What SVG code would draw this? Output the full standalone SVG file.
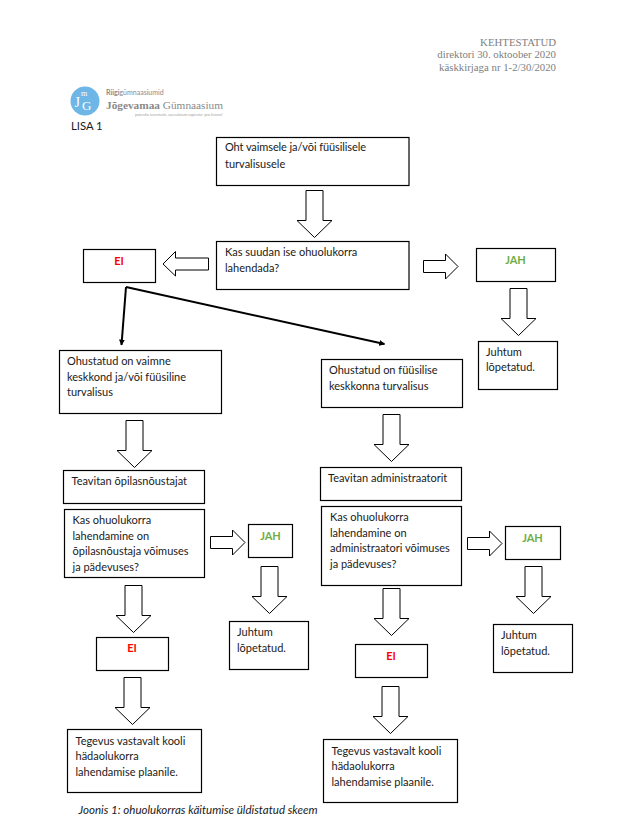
<svg xmlns="http://www.w3.org/2000/svg" width="624" height="825" viewBox="0 0 624 825">
<style>
text{font-family:"Lato","Noto Sans",sans-serif;font-size:11px;fill:#1a1a1a}
.b{fill:#fff;stroke:#000;stroke-width:1.2}
.a{fill:#fff;stroke:#000;stroke-width:1}
.no{font-weight:700;fill:#ff0000;text-anchor:middle}
.yes{font-weight:700;fill:#70ad47;text-anchor:middle}
.h{font-family:"Liberation Serif",serif;font-size:10.800px;fill:#808080;text-anchor:end}
.s{font-family:"Liberation Serif",serif;fill:#fff}
.l{fill:none;stroke:#000;stroke-width:2}
</style>
<defs>
<marker id="m" viewBox="0 0 10 10" refX="9" refY="5" markerWidth="3" markerHeight="3" orient="auto"><path d="M0 0L10 5L0 10z" fill="#000"/></marker>
<path id="d" d="M-8.500 0H8.500V30H17.500L0 47L-17.500 30H-8.500z" class="a"/>
</defs>
<rect width="624" height="825" fill="#fff"/>
<g id="header">
<text class="h" x="556" y="46">KEHTESTATUD</text>
<text class="h" x="556" y="58">direktori 30. oktoober 2020</text>
<text class="h" x="556" y="71">käskkirjaga nr 1-2/30/2020</text>
</g>
<g id="logo">
<circle cx="85" cy="101" r="14.500" fill="#6db6e6"/>
<text class="s" x="74.500" y="107" style="font-size:14px">J</text>
<text class="s" x="81" y="96" style="font-size:8px">m</text>
<text class="s" x="82" y="110" style="font-size:13px">G</text>
<text x="106" y="95" style="font-size:7px;fill:#8a8a8a"><tspan font-weight="700">Riigi</tspan>gümnaasiumid</text>
<text x="106" y="109" style="font-family:'Liberation Serif',serif;font-size:11.300px;font-weight:700;fill:#8a8a8a">Jõgevamaa <tspan font-weight="400">Gümnaasium</tspan></text>
<text x="135" y="116" style="font-size:3.800px;fill:#a0a0a0">potentia iuventutis, saeculorum sapienta–pro futuro!</text>
<text x="71" y="130" style="font-size:11.300px">LISA 1</text>
</g>
<g id="connectors">
<use href="#d" x="314.500" y="190.500"/>
<use href="#d" x="518.500" y="288.500"/>
<use href="#d" x="134.500" y="420.500"/>
<use href="#d" x="133.500" y="585.500"/>
<use href="#d" x="132.500" y="677.500"/>
<use href="#d" x="269.500" y="566.500"/>
<use href="#d" x="391.500" y="414.500"/>
<use href="#d" x="391.500" y="588.500"/>
<use href="#d" x="390.500" y="686.500"/>
<use href="#d" x="533.500" y="566.500"/>
<path class="a" d="M208.500 258V270H175.500V276L163 264L175.500 251.500V258z"/>
<path class="a" d="M423.500 260.500V272.500H445.500V279L458 266.500L445.500 254V260.500z"/>
<path class="a" d="M210.500 536.500V548.500H232.500V555L245 542.500L232.500 530V536.500z"/>
<path class="a" d="M467.500 537.500V549.500H489.500V556L502 543.500L489.500 531V537.500z"/>
<path class="l" d="M126 287L121.500 345" marker-end="url(#m)"/>
<path class="l" d="M126 287L384.500 344" marker-end="url(#m)"/>
</g>
<g id="n1"><rect class="b" x="216.500" y="137.500" width="192.500" height="48"/><text x="225" y="151" textLength="141">Oht vaimsele ja/või füüsilisele</text><text x="225" y="168">turvalisusele</text></g>
<g id="n2"><rect class="b" x="216.500" y="241.500" width="192.500" height="48"/><text x="225" y="256">Kas suudan ise ohuolukorra</text><text x="225" y="272">lahendada?</text></g>
<g id="n3"><rect class="b" x="83.500" y="249.500" width="72" height="33"/><text class="no" x="119" y="265">EI</text></g>
<g id="n4"><rect class="b" x="476.500" y="248.500" width="79" height="33"/><text class="yes" x="515.500" y="264">JAH</text></g>
<g id="n5"><rect class="b" x="478.500" y="341.500" width="79" height="48"/><text x="486" y="356">Juhtum</text><text x="486" y="371">lõpetatud.</text></g>
<g id="n6"><rect class="b" x="59.500" y="350.500" width="162" height="63"/><text x="67" y="365">Ohustatud on vaimne</text><text x="67" y="381">keskkond ja/või füüsiline</text><text x="67" y="396">turvalisus</text></g>
<g id="n7"><rect class="b" x="321.500" y="359.500" width="141" height="48"/><text x="329" y="374">Ohustatud on füüsilise</text><text x="329" y="390">keskkonna turvalisus</text></g>
<g id="n8"><rect class="b" x="63.500" y="470.500" width="141" height="33"/><text x="71.500" y="485">Teavitan õpilasnõustajat</text></g>
<g id="n9"><rect class="b" x="64.500" y="509.500" width="140" height="68"/><text x="72.500" y="524">Kas ohuolukorra</text><text x="72.500" y="540">lahendamine on</text><text x="72.500" y="555">õpilasnõustaja võimuses</text><text x="72.500" y="571">ja pädevuses?</text></g>
<g id="n10"><rect class="b" x="248.500" y="524.500" width="44" height="33"/><text class="yes" x="270.500" y="540">JAH</text></g>
<g id="n11"><rect class="b" x="229.500" y="621.500" width="79" height="48"/><text x="237" y="636">Juhtum</text><text x="237" y="652">lõpetatud.</text></g>
<g id="n12"><rect class="b" x="96.500" y="637.500" width="72" height="33"/><text class="no" x="132" y="652">EI</text></g>
<g id="n13"><rect class="b" x="67.500" y="729.500" width="134" height="63"/><text x="75.500" y="745">Tegevus vastavalt kooli</text><text x="75.500" y="760">hädaolukorra</text><text x="75.500" y="776">lahendamise plaanile.</text></g>
<g id="n14"><rect class="b" x="320.500" y="467.500" width="141" height="33"/><text x="328" y="482">Teavitan administraatorit</text></g>
<g id="n15"><rect class="b" x="321.500" y="506.500" width="140" height="79"/><text x="330" y="521">Kas ohuolukorra</text><text x="330" y="537">lahendamine on</text><text x="330" y="552">administraatori võimuses</text><text x="330" y="568">ja pädevuses?</text></g>
<g id="n16"><rect class="b" x="505.500" y="526.500" width="55" height="33"/><text class="yes" x="532.500" y="542">JAH</text></g>
<g id="n17"><rect class="b" x="493.500" y="624.500" width="79" height="48"/><text x="501" y="639">Juhtum</text><text x="501" y="655">lõpetatud.</text></g>
<g id="n18"><rect class="b" x="355.500" y="644.500" width="72" height="33"/><text class="no" x="391" y="660">EI</text></g>
<g id="n19"><rect class="b" x="323.500" y="739.500" width="134" height="63"/><text x="331.500" y="755">Tegevus vastavalt kooli</text><text x="331.500" y="770">hädaolukorra</text><text x="331.500" y="786">lahendamise plaanile.</text></g>
<text id="caption" x="78.500" y="814" font-style="italic" style="font-size:11.550px">Joonis 1: ohuolukorras käitumise üldistatud skeem</text>
</svg>
